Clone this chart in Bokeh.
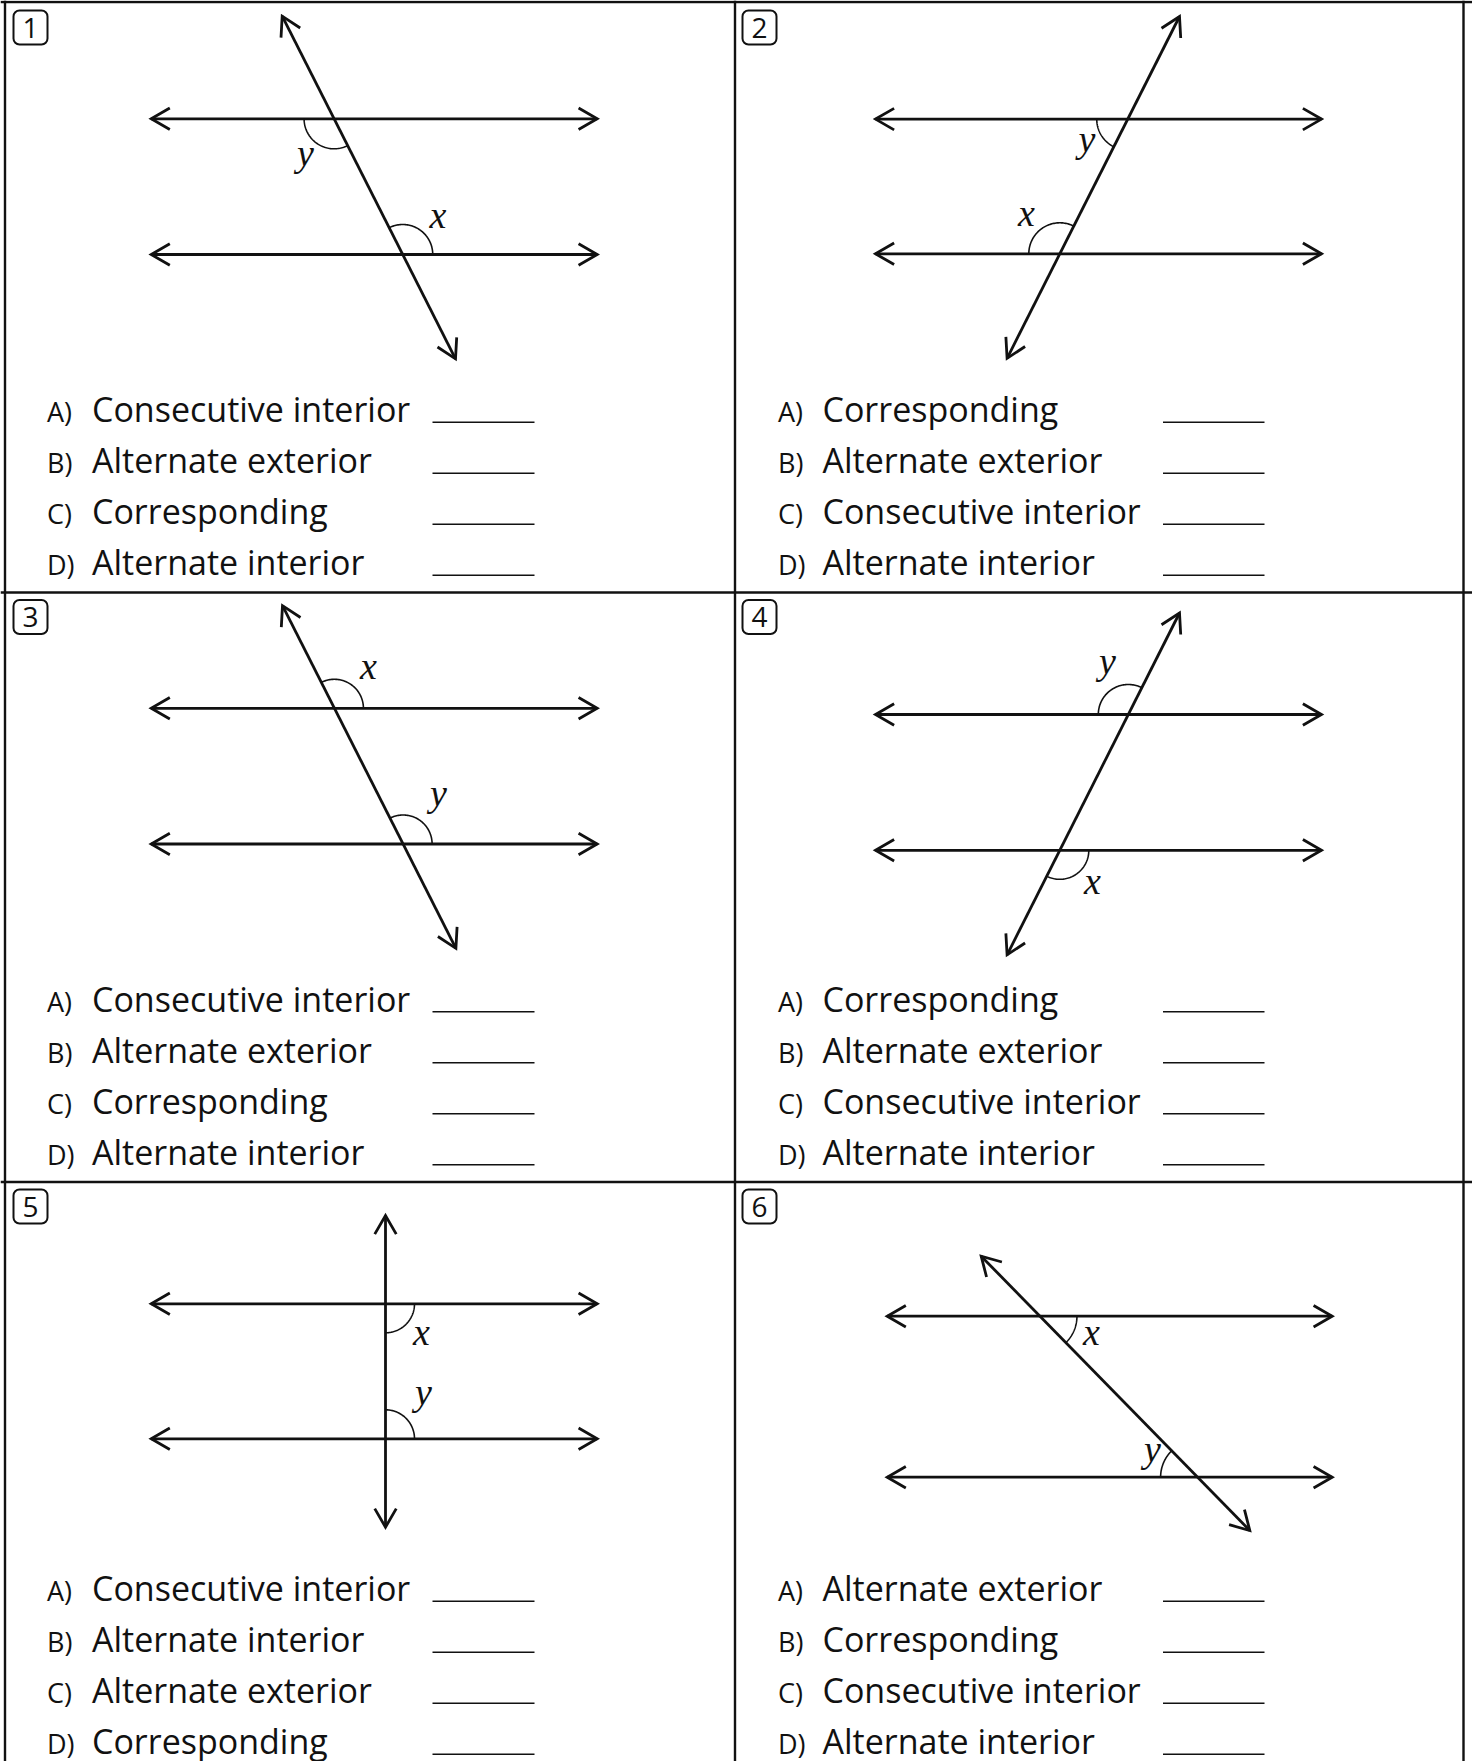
import numpy as np
from bokeh.plotting import figure
from bokeh.models import Range1d
from bokeh.core.properties import value
from bokeh.embed import file_html
from bokeh.resources import INLINE

# ---------------- content ----------------
panel_numbers = ["1", "2", "3", "4", "5", "6"]
option_letters = ["A)", "B)", "C)", "D)"]
options_p1 = ["Consecutive interior", "Alternate exterior", "Corresponding", "Alternate interior"]
options_p2 = ["Corresponding", "Alternate exterior", "Consecutive interior", "Alternate interior"]
options_p3 = ["Consecutive interior", "Alternate exterior", "Corresponding", "Alternate interior"]
options_p4 = ["Corresponding", "Alternate exterior", "Consecutive interior", "Alternate interior"]
options_p5 = ["Consecutive interior", "Alternate interior", "Alternate exterior", "Corresponding"]
options_p6 = ["Alternate exterior", "Corresponding", "Consecutive interior", "Alternate interior"]
all_options = [options_p1, options_p2, options_p3, options_p4, options_p5, options_p6]

# ---------------- geometry (page pixel units, y downward) ----------------
par_x_left = [150.7, 875.0, 150.7, 875.0, 150.7, 886.7]
par_x_right = [596.7, 1321.0, 596.7, 1321.0, 596.7, 1331.7]
par_y_top = [118.3, 118.6, 707.8, 714.0, 1303.3, 1315.7]
par_y_bottom = [254.0, 253.3, 843.5, 849.8, 1438.3, 1476.7]
trans_x_up = [281.7, 1179.0, 282.0, 1179.0, 385.0, 980.7]
trans_y_up = [15.7, 16.0, 605.2, 612.5, 1215.0, 1255.7]
trans_x_down = [455.0, 1006.6, 455.4, 1006.6, 385.0, 1249.3]
trans_y_down = [358.3, 357.8, 947.8, 954.3, 1526.7, 1530.0]

# angle marks
angle_panel = [0, 0, 1, 1, 2, 2, 3, 3, 4, 4, 5, 5]
angle_name = ["y", "x", "y", "x", "x", "y", "y", "x", "x", "y", "x", "y"]
angle_line = [0, 1, 0, 1, 0, 1, 0, 1, 0, 1, 0, 1]          # 0 = upper parallel, 1 = lower
angle_hside = [-1, 1, -1, -1, 1, 1, -1, 1, 1, 1, 1, -1]    # +1 right ray, -1 left ray
angle_tside = [1, -1, 1, -1, -1, -1, -1, 1, 1, -1, 1, -1]  # +1 downward ray, -1 upward ray
angle_radius = [30, 30, 31, 31, 29, 29, 30, 29, 29, 29, 37, 37]
angle_label_x = [305, 437.5, 1086.5, 1026, 368, 438, 1107, 1092, 421, 423, 1091, 1152]
angle_label_y = [166, 228, 152, 226.6, 679.5, 806.5, 674.5, 894.6, 1345, 1405, 1345, 1462]

# layout of panels
col_lines_x = [4.5, 734.5, 1463.0]
row_lines_y = [1.5, 592.0, 1181.5]
box_left = [13.0, 742.0, 13.0, 742.0, 13.0, 742.0]
box_top = [10.0, 10.0, 599.5, 599.5, 1189.0, 1189.0]
box_size = 34.0
letter_x = [46.5, 777.5]
word_x = [91.5, 822.0]
blank_x0 = [432.0, 1162.5]
blank_x1 = [534.0, 1264.0]
row_offset = [0.0, 589.5, 1179.0]
option_baselines = [421.0, 472.0, 523.0, 574.0]

W, H = 1472, 1761
p = figure(width=W, height=H, x_range=Range1d(0, W), y_range=Range1d(H, 0),
           output_backend="svg", toolbar_location=None, min_border=0,
           x_axis_location=None, y_axis_location=None)
p.grid.visible = False
p.outline_line_color = None
p.background_fill_color = "white"
p.border_fill_color = "white"

LW = 2.8
INK = "#111111"
BASE_FIX = 0.36   # shift (in em) between requested and drawn alphabetic baseline

def fix(ys, size):
    return [v - BASE_FIX * size for v in ys]

# ---- frame ----
p.segment(x0=col_lines_x, y0=[0] * 3, x1=col_lines_x, y1=[H] * 3, line_color=INK, line_width=2.4)
p.segment(x0=[0] * 3, y0=row_lines_y, x1=[W] * 3, y1=row_lines_y, line_color=INK, line_width=2.4)

# ---- number boxes ----
bl = np.array(box_left)
bt = np.array(box_top)
p.quad(left=bl, right=bl + box_size, top=bt, bottom=bt + box_size, fill_color="white",
       line_color=INK, line_width=2.0, border_radius=6)
p.text(x=list(bl + box_size / 2), y=fix(list(bt + 27.5), 28), text=panel_numbers,
       text_font=value("Open Sans"), text_font_size="28px", text_align="center",
       text_baseline="alphabetic", text_color=INK)

# ---- helpers ----
def arrow_head(tip, u, L=21.5, half=np.deg2rad(30)):
    out = []
    for s in (1, -1):
        c, sn = np.cos(s * half), np.sin(s * half)
        v = np.array([u[0] * c - u[1] * sn, u[0] * sn + u[1] * c])
        out.append(tip - L * v)
    return [out[0][0], tip[0], out[1][0]], [out[0][1], tip[1], out[1][1]]

main_xs, main_ys, head_xs, head_ys = [], [], [], []
for i in range(6):
    for yy in (par_y_top[i], par_y_bottom[i]):
        a = np.array([par_x_left[i], yy])
        b = np.array([par_x_right[i], yy])
        main_xs.append([a[0], b[0]]); main_ys.append([a[1], b[1]])
        for tip, u in ((a, np.array([-1.0, 0.0])), (b, np.array([1.0, 0.0]))):
            hx, hy = arrow_head(tip, u)
            head_xs.append(hx); head_ys.append(hy)
    a = np.array([trans_x_up[i], trans_y_up[i]])
    b = np.array([trans_x_down[i], trans_y_down[i]])
    d = (b - a) / np.linalg.norm(b - a)
    main_xs.append([a[0], b[0]]); main_ys.append([a[1], b[1]])
    for tip, u in ((a, -d), (b, d)):
        hx, hy = arrow_head(tip, u)
        head_xs.append(hx); head_ys.append(hy)

p.multi_line(xs=main_xs, ys=main_ys, line_color=INK, line_width=LW)
p.multi_line(xs=head_xs, ys=head_ys, line_color=INK, line_width=LW, line_join="miter")

# ---- angle arcs ----
arc_xs, arc_ys = [], []
for k in range(len(angle_panel)):
    i = angle_panel[k]
    Y = par_y_top[i] if angle_line[k] == 0 else par_y_bottom[i]
    x0, y0, x1, y1 = trans_x_up[i], trans_y_up[i], trans_x_down[i], trans_y_down[i]
    cx = x0 + (Y - y0) * (x1 - x0) / (y1 - y0)
    th_h = 0.0 if angle_hside[k] > 0 else np.pi
    dx, dy = (x1 - x0) * angle_tside[k], (y1 - y0) * angle_tside[k]
    th_t = np.arctan2(dy, dx)
    sweep = (th_t - th_h + np.pi) % (2 * np.pi) - np.pi
    th = th_h + np.linspace(0, 1, 60) * sweep
    r = angle_radius[k]
    arc_xs.append(list(cx + r * np.cos(th)))
    arc_ys.append(list(Y + r * np.sin(th)))
p.multi_line(xs=arc_xs, ys=arc_ys, line_color=INK, line_width=1.6)

p.text(x=angle_label_x, y=fix(angle_label_y, 38), text=angle_name,
       text_font=value("Liberation Serif"), text_font_style="italic", text_font_size="38px",
       text_align="center", text_baseline="alphabetic", text_color=INK)

# ---- options ----
lx, ly, lt, wx, wt, bx0, bx1, by = [], [], [], [], [], [], [], []
for i in range(6):
    col = i % 2
    row = i // 2
    for j in range(4):
        yb = option_baselines[j] + row_offset[row]
        lx.append(letter_x[col]); ly.append(yb); lt.append(option_letters[j])
        wx.append(word_x[col]); wt.append(all_options[i][j])
        bx0.append(blank_x0[col]); bx1.append(blank_x1[col]); by.append(yb + 0.8)

p.text(x=lx, y=fix(ly, 27), text=lt, text_font=value("Open Sans"), text_font_size="27px",
       text_align="left", text_baseline="alphabetic", text_color=INK)
p.text(x=wx, y=fix(ly, 34), text=wt, text_font=value("Open Sans"), text_font_size="34px",
       text_align="left", text_baseline="alphabetic", text_color=INK)
p.segment(x0=bx0, y0=by, x1=bx1, y1=by, line_color=INK, line_width=1.6)

open("out.html", "w").write(file_html(p, INLINE))
